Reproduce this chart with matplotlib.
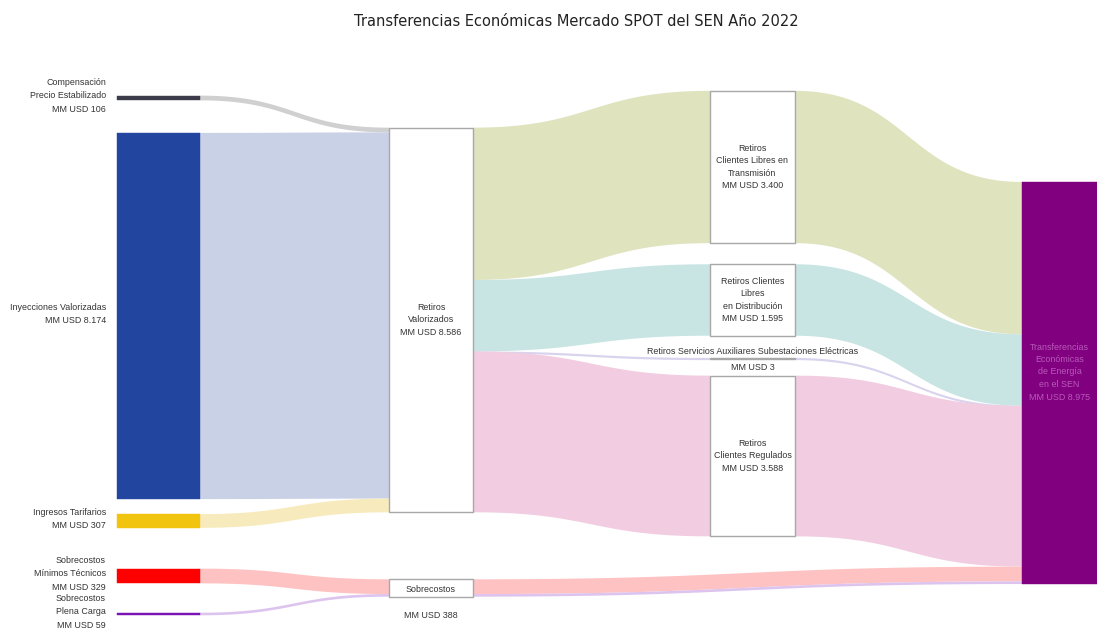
import matplotlib.pyplot as plt
import numpy as np

# Nodes of the sankey
node_names = [
    'Compensación\nPrecio Estabilizado',
    'Inyecciones Valorizadas',
    'Ingresos Tarifarios',
    'Sobrecostos\nMínimos Técnicos',
    'Sobrecostos\nPlena Carga',
    'Retiros\nValorizados',
    'Sobrecostos',
    'Retiros\nClientes Libres en\nTransmisión',
    'Retiros Clientes\nLibres\nen Distribución',
    'Retiros Servicios Auxiliares Subestaciones Eléctricas',
    'Retiros\nClientes Regulados',
    'Transferencias\nEconómicas\nde Energía\nen el SEN',
]
node_totals = [106, 8174, 307, 329, 59, 8586, 388, 3400, 1595, 3, 3588, 8975]
node_colors = ['#3b3b4a', '#2245a0', '#f1c40f', '#ff0000', '#7a12b5',
               'white', 'white', 'white', 'white', 'white', 'white', '#800080']

# Flows (source, target, value, color)
link_source = [0, 1, 2, 3, 4, 5, 5, 5, 5, 7, 8, 9, 10, 6, 6]
link_target = [5, 5, 5, 6, 6, 7, 8, 9, 10, 11, 11, 11, 11, 11, 11]
link_value = [106, 8174, 307, 329, 59, 3400, 1595, 3, 3588, 3400, 1595, 3, 3588, 329, 59]
link_colors = ['#d0d0d0', '#c9d1e6', '#f7ebbd', '#ffc2c2', '#dcc4ee',
               '#dfe3be', '#c8e5e3', '#d9d3ee', '#f2cce0',
               '#dfe3be', '#c8e5e3', '#d9d3ee', '#f2cce0', '#ffc2c2', '#dcc4ee']

# Layout (pixel frame): node left x, node centre y, label style
node_x = [117, 117, 117, 117, 117, 389, 389, 710, 710, 710, 710, 1022]
node_cy = [98, 316, 521, 576, 614, 320, 588, 167, 300, 358, 456, 383]
node_w = [83, 83, 83, 83, 83, 84, 84, 85, 85, 85, 85, 75]
label_mode = ['left'] * 5 + ['inside', 'below', 'inside', 'inside', 'around', 'inside', 'inside']
scale = 0.0448  # px per MM USD

W, H = 1097, 635
fig = plt.figure(figsize=(W / 100, H / 100), dpi=100)
ax = fig.add_axes([0, 0, 1, 1])
ax.set_xlim(0, W)
ax.set_ylim(H, 0)
ax.axis('off')

n = len(node_names)
flow_in = np.zeros(n)
flow_out = np.zeros(n)
for s, t, v in zip(link_source, link_target, link_value):
    flow_out[s] += v
    flow_in[t] += v
node_h = np.maximum(flow_in, flow_out) * scale
node_top = np.array(node_cy) - node_h / 2

# links
off_out = node_top.copy()
off_in = node_top.copy()
tt = np.linspace(0, 1, 80)
for s, t, v, c in zip(link_source, link_target, link_value, link_colors):
    h = v * scale
    x0 = node_x[s] + node_w[s]
    x1 = node_x[t]
    y0 = off_out[s]
    y1 = off_in[t]
    off_out[s] += h
    off_in[t] += h
    xm = (x0 + x1) / 2
    bx = (1 - tt) ** 3 * x0 + 3 * (1 - tt) ** 2 * tt * xm + 3 * (1 - tt) * tt ** 2 * xm + tt ** 3 * x1
    wy = 3 * (1 - tt) * tt ** 2 + tt ** 3
    top = y0 + (y1 - y0) * wy
    hh = max(h, 2.2)
    ax.fill(np.concatenate([bx, bx[::-1]]),
            np.concatenate([top, (top + hh)[::-1]]),
            color=c, lw=0, zorder=1)

# nodes
font = 'Liberation Sans'
fs = 6.4
for i in range(n):
    edge = '#a8a8a8' if node_colors[i] == 'white' else node_colors[i]
    ax.add_patch(plt.Rectangle((node_x[i], node_top[i]), node_w[i], max(node_h[i], 1.5),
                               facecolor=node_colors[i], edgecolor=edge,
                               lw=1 if node_colors[i] == 'white' else 0.3, zorder=2))
    val = 'MM USD ' + f'{node_totals[i]:,}'.replace(',', '.')
    cx = node_x[i] + node_w[i] / 2
    cy = node_cy[i]
    if label_mode[i] == 'left':
        ax.text(node_x[i] - 11, cy - 2, node_names[i] + '\n' + val, ha='right', va='center',
                fontsize=fs, family=font, color='#333333', linespacing=1.6, zorder=3)
    elif label_mode[i] == 'inside':
        tc = '#b95ab9' if node_colors[i] != 'white' else '#333333'
        ax.text(cx, cy - 11 if node_colors[i] != 'white' else cy, node_names[i] + '\n' + val,
                ha='center', va='center', fontsize=fs, family=font, color=tc,
                linespacing=1.5, zorder=3)
    elif label_mode[i] == 'below':
        ax.text(cx, cy + 2, node_names[i], ha='center', va='center',
                fontsize=fs, family=font, color='#333333', zorder=3)
        ax.text(cx, cy + 27, val, ha='center', va='center',
                fontsize=fs, family=font, color='#333333', zorder=3)
    else:
        ax.text(cx, cy - 7, node_names[i], ha='center', va='center',
                fontsize=fs, family=font, color='#333333', zorder=3)
        ax.text(cx, cy + 10, val, ha='center', va='center',
                fontsize=fs, family=font, color='#333333', zorder=3)

ax.text(W / 2 + 28, 22, 'Transferencias Económicas Mercado SPOT del SEN Año 2022',
        ha='center', va='center', fontsize=10.5, family='DejaVu Sans', color='#222222')

fig.savefig('out.png', dpi=100)
